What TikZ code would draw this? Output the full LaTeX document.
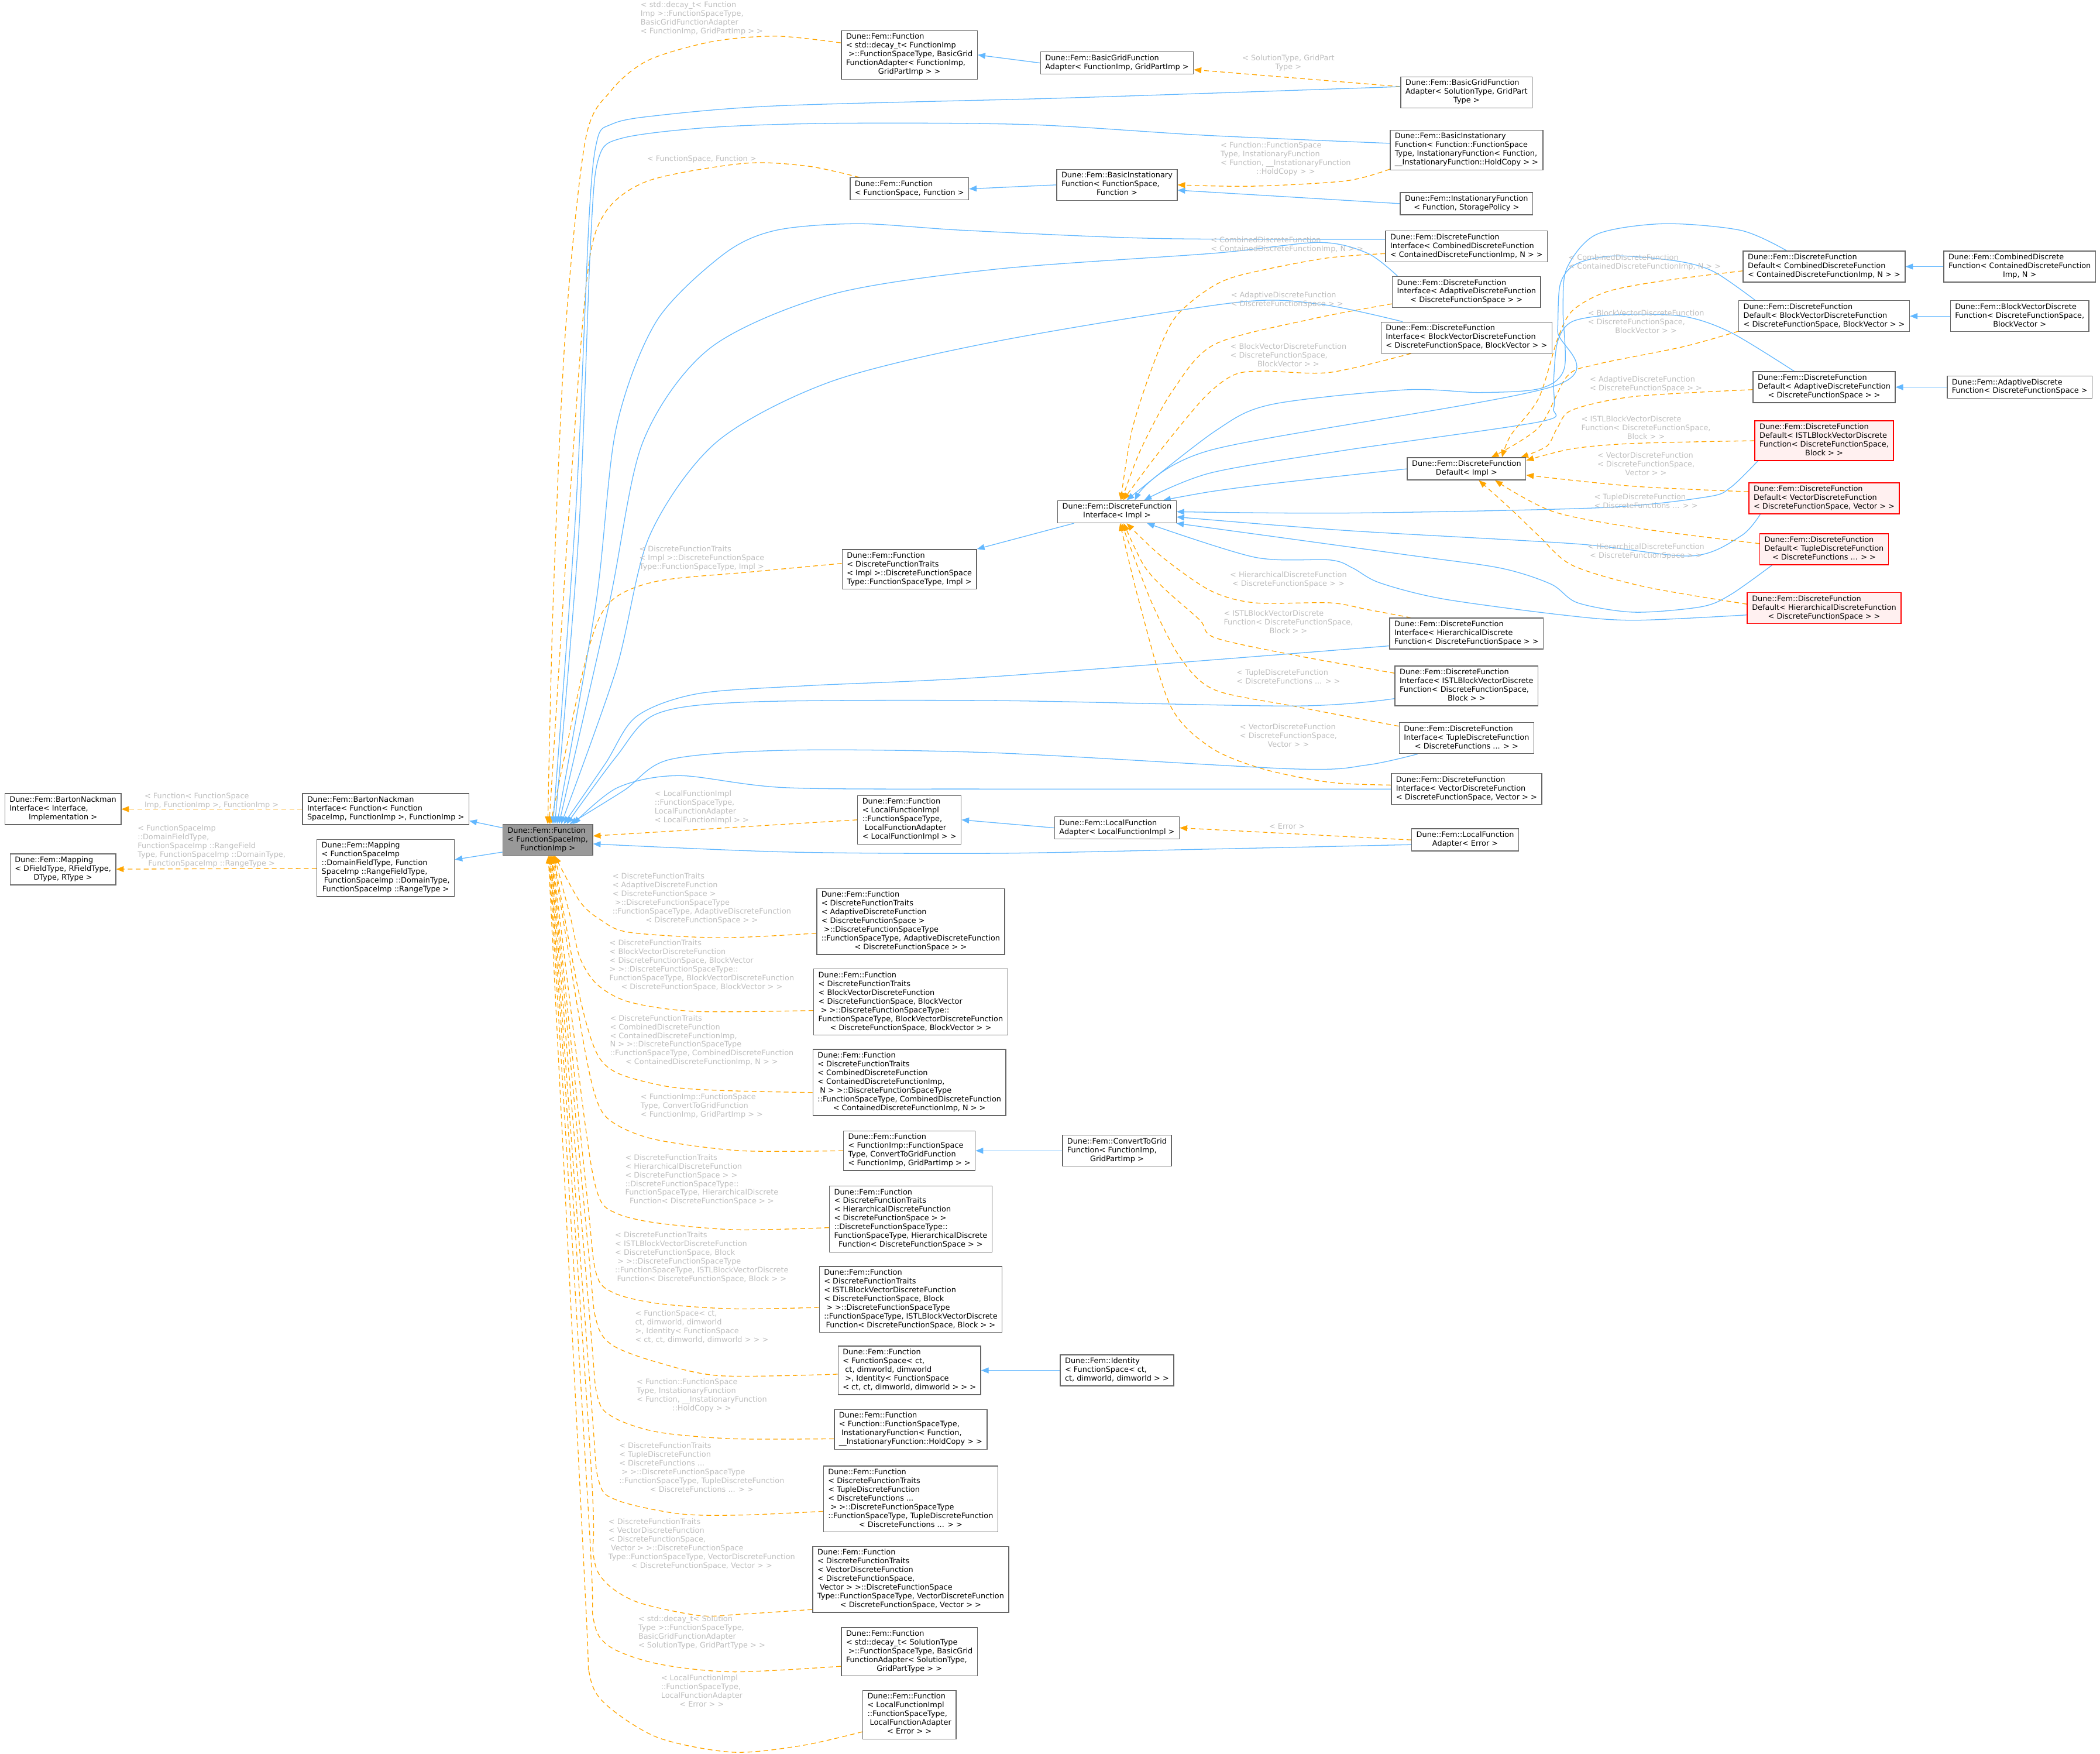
\documentclass[tikz,border=0pt]{standalone}
\usepackage{fontspec}
\setmainfont{DejaVu Sans}
\usepackage{tikz}
\usetikzlibrary{arrows.meta,backgrounds}
\definecolor{edgeblue}{HTML}{63B8FF}
\definecolor{edgeorange}{HTML}{FFA500}
\definecolor{lblgray}{HTML}{BEBEBE}
\definecolor{boxgray}{HTML}{666666}
\definecolor{hlfill}{HTML}{999999}
\definecolor{warnfill}{HTML}{FFF0F0}
\newcommand{\dox}[2]{\begin{tabular}{@{}l@{}}#1\\\multicolumn{1}{@{}c@{}}{#2}\end{tabular}}
\tikzset{
  >={Triangle[length=2.8mm,width=2.2mm]},
  cls/.style={draw=boxgray, line width=0.9pt, fill=white, font=\fontsize{8}{9.3}\selectfont, inner xsep=5pt, inner ysep=2.5pt},
  hl/.style={cls, fill=hlfill},
  warn/.style={cls, draw=red},
  warn/.append style={fill=warnfill},
  elbl/.style={text=lblgray, font=\fontsize{8}{9.3}\selectfont, inner sep=0pt},
  pub/.style={draw=edgeblue, line width=0.8pt, ->},
  tmpl/.style={draw=edgeorange, line width=0.8pt, dash pattern=on 5pt off 3.5pt, ->},
}

\begin{document}
\begin{tikzpicture}[x=0.5mm, y=-0.5mm]
  \useasboundingbox (0,0) rectangle (1568,1309);
  % left part
  \node[cls] (bni) at (47,604) {\dox{Dune::Fem::BartonNackman\\Interface< Interface,}{Implementation >}};
  \node[cls] (map0) at (47,649) {\dox{Dune::Fem::Mapping\\< DFieldType, RFieldType,}{DType, RType >}};
  \node[cls] (bnf) at (288,604) {\dox{Dune::Fem::BartonNackman\\Interface< Function< Function}{SpaceImp, FunctionImp >, FunctionImp >}};
  \node[cls] (mapf) at (288,648) {\dox{Dune::Fem::Mapping\\< FunctionSpaceImp\\::DomainFieldType, Function\\SpaceImp ::RangeFieldType,\\\ FunctionSpaceImp ::DomainType,}{FunctionSpaceImp ::RangeType >}};
  \node[hl] (fn) at (409,627) {\dox{Dune::Fem::Function\\< FunctionSpaceImp,}{FunctionImp >}};
  % top part
  \node[cls] (fbga) at (679,41) {\dox{Dune::Fem::Function\\< std::decay\_t< FunctionImp\\\ >::FunctionSpaceType, BasicGrid\\FunctionAdapter< FunctionImp,}{GridPartImp > >}};
  \node[cls] (bga) at (834,47) {\dox{Dune::Fem::BasicGridFunction}{Adapter< FunctionImp, GridPartImp >}};
  \node[cls] (bgas) at (1095,69) {\dox{Dune::Fem::BasicGridFunction\\Adapter< SolutionType, GridPart}{Type >}};
  \node[cls] (bif) at (1095,112) {\dox{Dune::Fem::BasicInstationary\\Function< Function::FunctionSpace\\Type, InstationaryFunction< Function,}{\_\_InstationaryFunction::HoldCopy > >}};
  \node[cls] (ffs) at (679,141) {\dox{Dune::Fem::Function}{< FunctionSpace, Function >}};
  \node[cls] (bis) at (834,138) {\dox{Dune::Fem::BasicInstationary\\Function< FunctionSpace,}{Function >}};
  \node[cls] (inst) at (1095,152) {\dox{Dune::Fem::InstationaryFunction}{< Function, StoragePolicy >}};
  % interfaces
  \node[cls] (dicomb) at (1095,184) {\dox{Dune::Fem::DiscreteFunction\\Interface< CombinedDiscreteFunction}{< ContainedDiscreteFunctionImp, N > >}};
  \node[cls] (diadapt) at (1095,218) {\dox{Dune::Fem::DiscreteFunction\\Interface< AdaptiveDiscreteFunction}{< DiscreteFunctionSpace > >}};
  \node[cls] (dibv) at (1095,252) {\dox{Dune::Fem::DiscreteFunction\\Interface< BlockVectorDiscreteFunction}{< DiscreteFunctionSpace, BlockVector > >}};
  \node[cls] (dfd) at (1095,350) {\dox{Dune::Fem::DiscreteFunction}{Default< Impl >}};
  \node[cls] (dfi) at (834,382) {\dox{Dune::Fem::DiscreteFunction}{Interface< Impl >}};
  \node[cls] (ftr) at (679,425) {\dox{Dune::Fem::Function\\< DiscreteFunctionTraits\\< Impl >::DiscreteFunctionSpace}{Type::FunctionSpaceType, Impl >}};
  \node[cls] (dihier) at (1095,473) {\dox{Dune::Fem::DiscreteFunction\\Interface< HierarchicalDiscrete}{Function< DiscreteFunctionSpace > >}};
  \node[cls] (diistl) at (1095,512) {\dox{Dune::Fem::DiscreteFunction\\Interface< ISTLBlockVectorDiscrete\\Function< DiscreteFunctionSpace,}{Block > >}};
  \node[cls] (dituple) at (1095,551) {\dox{Dune::Fem::DiscreteFunction\\Interface< TupleDiscreteFunction}{< DiscreteFunctions ... > >}};
  \node[cls] (divec) at (1095,589) {\dox{Dune::Fem::DiscreteFunction\\Interface< VectorDiscreteFunction}{< DiscreteFunctionSpace, Vector > >}};
  % defaults
  \node[cls] (ddcomb) at (1362,199) {\dox{Dune::Fem::DiscreteFunction\\Default< CombinedDiscreteFunction}{< ContainedDiscreteFunctionImp, N > >}};
  \node[cls] (ddbv) at (1362,236) {\dox{Dune::Fem::DiscreteFunction\\Default< BlockVectorDiscreteFunction}{< DiscreteFunctionSpace, BlockVector > >}};
  \node[cls] (ddadapt) at (1362,289) {\dox{Dune::Fem::DiscreteFunction\\Default< AdaptiveDiscreteFunction}{< DiscreteFunctionSpace > >}};
  \node[warn] (ddistl) at (1362,329) {\dox{Dune::Fem::DiscreteFunction\\Default< ISTLBlockVectorDiscrete\\Function< DiscreteFunctionSpace,}{Block > >}};
  \node[warn] (ddvec) at (1362,372) {\dox{Dune::Fem::DiscreteFunction\\Default< VectorDiscreteFunction}{< DiscreteFunctionSpace, Vector > >}};
  \node[warn] (ddtuple) at (1362,410) {\dox{Dune::Fem::DiscreteFunction\\Default< TupleDiscreteFunction}{< DiscreteFunctions ... > >}};
  \node[warn] (ddhier) at (1362,454) {\dox{Dune::Fem::DiscreteFunction\\Default< HierarchicalDiscreteFunction}{< DiscreteFunctionSpace > >}};
  \node[cls] (cdf) at (1508,199) {\dox{Dune::Fem::CombinedDiscrete\\Function< ContainedDiscreteFunction}{Imp, N >}};
  \node[cls] (bvdf) at (1508,236) {\dox{Dune::Fem::BlockVectorDiscrete\\Function< DiscreteFunctionSpace,}{BlockVector >}};
  \node[cls] (adf) at (1508,289) {\dox{Dune::Fem::AdaptiveDiscrete}{Function< DiscreteFunctionSpace >}};
  % local functions
  \node[cls] (flfa) at (679,612) {\dox{Dune::Fem::Function\\< LocalFunctionImpl\\::FunctionSpaceType,\\\ LocalFunctionAdapter}{< LocalFunctionImpl > >}};
  \node[cls] (lfa) at (834,618) {\dox{Dune::Fem::LocalFunction}{Adapter< LocalFunctionImpl >}};
  \node[cls] (lfae) at (1094,627) {\dox{Dune::Fem::LocalFunction}{Adapter< Error >}};
  % function instances
  \node[cls] (fadapt) at (680,688) {\dox{Dune::Fem::Function\\< DiscreteFunctionTraits\\< AdaptiveDiscreteFunction\\< DiscreteFunctionSpace >\\\ >::DiscreteFunctionSpaceType\\::FunctionSpaceType, AdaptiveDiscreteFunction}{< DiscreteFunctionSpace > >}};
  \node[cls] (fbv) at (680,748) {\dox{Dune::Fem::Function\\< DiscreteFunctionTraits\\< BlockVectorDiscreteFunction\\< DiscreteFunctionSpace, BlockVector\\\ > >::DiscreteFunctionSpaceType::\\FunctionSpaceType, BlockVectorDiscreteFunction}{< DiscreteFunctionSpace, BlockVector > >}};
  \node[cls] (fcomb) at (679,808) {\dox{Dune::Fem::Function\\< DiscreteFunctionTraits\\< CombinedDiscreteFunction\\< ContainedDiscreteFunctionImp,\\\ N > >::DiscreteFunctionSpaceType\\::FunctionSpaceType, CombinedDiscreteFunction}{< ContainedDiscreteFunctionImp, N > >}};
  \node[cls] (fctg) at (679,859) {\dox{Dune::Fem::Function\\< FunctionImp::FunctionSpace\\Type, ConvertToGridFunction}{< FunctionImp, GridPartImp > >}};
  \node[cls] (ctg) at (834,859) {\dox{Dune::Fem::ConvertToGrid\\Function< FunctionImp,}{GridPartImp >}};
  \node[cls] (fhier) at (680,910) {\dox{Dune::Fem::Function\\< DiscreteFunctionTraits\\< HierarchicalDiscreteFunction\\< DiscreteFunctionSpace > >\\::DiscreteFunctionSpaceType::\\FunctionSpaceType, HierarchicalDiscrete}{Function< DiscreteFunctionSpace > >}};
  \node[cls] (fistl) at (680,970) {\dox{Dune::Fem::Function\\< DiscreteFunctionTraits\\< ISTLBlockVectorDiscreteFunction\\< DiscreteFunctionSpace, Block\\\ > >::DiscreteFunctionSpaceType\\::FunctionSpaceType, ISTLBlockVectorDiscrete}{Function< DiscreteFunctionSpace, Block > >}};
  \node[cls] (fid) at (679,1023) {\dox{Dune::Fem::Function\\< FunctionSpace< ct,\\\ ct, dimworld, dimworld\\\ >, Identity< FunctionSpace}{< ct, ct, dimworld, dimworld > > >}};
  \node[cls] (ident) at (834,1023) {\dox{Dune::Fem::Identity\\< FunctionSpace< ct,}{ct, dimworld, dimworld > >}};
  \node[cls] (finst) at (680,1067) {\dox{Dune::Fem::Function\\< Function::FunctionSpaceType,\\\ InstationaryFunction< Function,}{\_\_InstationaryFunction::HoldCopy > >}};
  \node[cls] (ftuple) at (680,1119) {\dox{Dune::Fem::Function\\< DiscreteFunctionTraits\\< TupleDiscreteFunction\\< DiscreteFunctions ...\\\ > >::DiscreteFunctionSpaceType\\::FunctionSpaceType, TupleDiscreteFunction}{< DiscreteFunctions ... > >}};
  \node[cls] (fvec) at (680,1179) {\dox{Dune::Fem::Function\\< DiscreteFunctionTraits\\< VectorDiscreteFunction\\< DiscreteFunctionSpace,\\\ Vector > >::DiscreteFunctionSpace\\Type::FunctionSpaceType, VectorDiscreteFunction}{< DiscreteFunctionSpace, Vector > >}};
  \node[cls] (fsol) at (679,1233) {\dox{Dune::Fem::Function\\< std::decay\_t< SolutionType\\\ >::FunctionSpaceType, BasicGrid\\FunctionAdapter< SolutionType,}{GridPartType > >}};
  \node[cls] (ferr) at (679,1280) {\dox{Dune::Fem::Function\\< LocalFunctionImpl\\::FunctionSpaceType,\\\ LocalFunctionAdapter}{< Error > >}};
  % labels
  \node[elbl] (l-bnf) at (158,598) {\dox{< Function< FunctionSpace}{Imp, FunctionImp >, FunctionImp >}};
  \node[elbl] (l-mapf) at (158,632) {\dox{< FunctionSpaceImp\\::DomainFieldType,\\FunctionSpaceImp ::RangeField\\Type, FunctionSpaceImp ::DomainType,}{FunctionSpaceImp ::RangeType >}};
  \node[elbl] (l-fbga) at (524,14) {\dox{< std::decay\_t< Function\\Imp >::FunctionSpaceType,\\BasicGridFunctionAdapter}{< FunctionImp, GridPartImp > >}};
  \node[elbl] (l-bgas) at (962,47) {\dox{< SolutionType, GridPart}{Type >}};
  \node[elbl] (l-bif) at (960,119) {\dox{< Function::FunctionSpace\\Type, InstationaryFunction\\< Function, \_\_InstationaryFunction}{::HoldCopy > >}};
  \node[elbl] (l-ffs) at (524,119) {< FunctionSpace, Function >};
  \node[elbl] (l-ftr) at (524,417) {\dox{< DiscreteFunctionTraits\\< Impl >::DiscreteFunctionSpace}{Type::FunctionSpaceType, Impl >}};
  \node[elbl] (l-flfa) at (524,603) {\dox{< LocalFunctionImpl\\::FunctionSpaceType,\\LocalFunctionAdapter}{< LocalFunctionImpl > >}};
  \node[elbl] (l-lfae) at (961,617) {< Error >};
  \node[elbl] (l-dicomb) at (961,183) {\dox{< CombinedDiscreteFunction}{< ContainedDiscreteFunctionImp, N > >}};
  \node[elbl] (l-diadapt) at (961,224) {\dox{< AdaptiveDiscreteFunction}{< DiscreteFunctionSpace > >}};
  \node[elbl] (l-dibv) at (962,266) {\dox{< BlockVectorDiscreteFunction\\< DiscreteFunctionSpace,}{BlockVector > >}};
  \node[elbl] (l-dihier) at (962,433) {\dox{< HierarchicalDiscreteFunction}{< DiscreteFunctionSpace > >}};
  \node[elbl] (l-diistl) at (962,465) {\dox{< ISTLBlockVectorDiscrete\\Function< DiscreteFunctionSpace,}{Block > >}};
  \node[elbl] (l-dituple) at (962,506) {\dox{< TupleDiscreteFunction}{< DiscreteFunctions ... > >}};
  \node[elbl] (l-divec) at (962,550) {\dox{< VectorDiscreteFunction\\< DiscreteFunctionSpace,}{Vector > >}};
  \node[elbl] (l-ddcomb) at (1228,196) {\dox{< CombinedDiscreteFunction}{< ContainedDiscreteFunctionImp, N > >}};
  \node[elbl] (l-ddbv) at (1229,241) {\dox{< BlockVectorDiscreteFunction\\< DiscreteFunctionSpace,}{BlockVector > >}};
  \node[elbl] (l-ddadapt) at (1229,287) {\dox{< AdaptiveDiscreteFunction}{< DiscreteFunctionSpace > >}};
  \node[elbl] (l-ddistl) at (1229,320) {\dox{< ISTLBlockVectorDiscrete\\Function< DiscreteFunctionSpace,}{Block > >}};
  \node[elbl] (l-ddvec) at (1229,347) {\dox{< VectorDiscreteFunction\\< DiscreteFunctionSpace,}{Vector > >}};
  \node[elbl] (l-ddtuple) at (1229,375) {\dox{< TupleDiscreteFunction}{< DiscreteFunctions ... > >}};
  \node[elbl] (l-ddhier) at (1229,412) {\dox{< HierarchicalDiscreteFunction}{< DiscreteFunctionSpace > >}};
  \node[elbl] (l-fadapt) at (524,671) {\dox{< DiscreteFunctionTraits\\< AdaptiveDiscreteFunction\\< DiscreteFunctionSpace >\\\ >::DiscreteFunctionSpaceType\\::FunctionSpaceType, AdaptiveDiscreteFunction}{< DiscreteFunctionSpace > >}};
  \node[elbl] (l-fbv) at (524,721) {\dox{< DiscreteFunctionTraits\\< BlockVectorDiscreteFunction\\< DiscreteFunctionSpace, BlockVector\\> >::DiscreteFunctionSpaceType::\\FunctionSpaceType, BlockVectorDiscreteFunction}{< DiscreteFunctionSpace, BlockVector > >}};
  \node[elbl] (l-fcomb) at (524,777) {\dox{< DiscreteFunctionTraits\\< CombinedDiscreteFunction\\< ContainedDiscreteFunctionImp,\\N > >::DiscreteFunctionSpaceType\\::FunctionSpaceType, CombinedDiscreteFunction}{< ContainedDiscreteFunctionImp, N > >}};
  \node[elbl] (l-fctg) at (524,826) {\dox{< FunctionImp::FunctionSpace\\Type, ConvertToGridFunction}{< FunctionImp, GridPartImp > >}};
  \node[elbl] (l-fhier) at (524,881) {\dox{< DiscreteFunctionTraits\\< HierarchicalDiscreteFunction\\< DiscreteFunctionSpace > >\\::DiscreteFunctionSpaceType::\\FunctionSpaceType, HierarchicalDiscrete}{Function< DiscreteFunctionSpace > >}};
  \node[elbl] (l-fistl) at (524,939) {\dox{< DiscreteFunctionTraits\\< ISTLBlockVectorDiscreteFunction\\< DiscreteFunctionSpace, Block\\\ > >::DiscreteFunctionSpaceType\\::FunctionSpaceType, ISTLBlockVectorDiscrete}{Function< DiscreteFunctionSpace, Block > >}};
  \node[elbl] (l-fid) at (524,991) {\dox{< FunctionSpace< ct,\\ct, dimworld, dimworld\\>, Identity< FunctionSpace}{< ct, ct, dimworld, dimworld > > >}};
  \node[elbl] (l-finst) at (524,1042) {\dox{< Function::FunctionSpace\\Type, InstationaryFunction\\< Function, \_\_InstationaryFunction}{::HoldCopy > >}};
  \node[elbl] (l-ftuple) at (524,1096) {\dox{< DiscreteFunctionTraits\\< TupleDiscreteFunction\\< DiscreteFunctions ...\\\ > >::DiscreteFunctionSpaceType\\::FunctionSpaceType, TupleDiscreteFunction}{< DiscreteFunctions ... > >}};
  \node[elbl] (l-fvec) at (524,1153) {\dox{< DiscreteFunctionTraits\\< VectorDiscreteFunction\\< DiscreteFunctionSpace,\\\ Vector > >::DiscreteFunctionSpace\\Type::FunctionSpaceType, VectorDiscreteFunction}{< DiscreteFunctionSpace, Vector > >}};
  \node[elbl] (l-fsol) at (524,1219) {\dox{< std::decay\_t< Solution\\Type >::FunctionSpaceType,\\BasicGridFunctionAdapter}{< SolutionType, GridPartType > >}};
  \node[elbl] (l-ferr) at (524,1263) {\dox{< LocalFunctionImpl\\::FunctionSpaceType,\\LocalFunctionAdapter}{< Error > >}};

  \begin{scope}[on background layer]
  \draw[tmpl] (bnf) -- (bni);
  \draw[tmpl] (mapf) -- (map0);
  \draw[pub] (fn.165) -- (bnf.-8);
  \draw[pub] (fn.195) -- (mapf.7);
  \draw[pub] (bga.west) -- (fbga.east);
  \draw[tmpl] (bgas.175) -- (bga.-5);
  \draw[pub] (bis.west) -- (ffs.east);
  \draw[pub] (inst.west) -- (bis.-5);
  \draw[tmpl] plot[smooth] coordinates {(bif.-166) (1005,135) (935,139) (bis.east)};
  \draw[pub] (lfa.west) -- (flfa.east);
  \draw[tmpl] (lfae.west) -- (lfa.east);
  \draw[tmpl] (flfa.west) -- (fn.5);
  \draw[pub] plot[smooth] coordinates {(lfae.-175) (896,634) (743,637) (587,636) (fn.-5)};
  \draw[pub] (ctg.west) -- (fctg.east);
  \draw[pub] (ident.west) -- (fid.east);
  \draw[pub] (cdf.west) -- (ddcomb.east);
  \draw[pub] (bvdf.west) -- (ddbv.east);
  \draw[pub] (adf.west) -- (ddadapt.east);
  \draw[pub] (dfi.-165) -- (ftr.north east);
  \draw[pub] plot[smooth] coordinates {(dfd.west) (950,361) (904,367) (dfi.14)};
  % instances of the interface
  \draw[tmpl] plot[smooth] coordinates {(dicomb.-175) (988,193) (924,206) (899,218) (876,239) (860,275) (845,322) (dfi.72)};
  \draw[tmpl] plot[smooth] coordinates {(diadapt.-171) (980,238) (907,257) (876,291) (852,335) (dfi.68)};
  \draw[tmpl] plot[smooth] coordinates {(dibv.-164) (993,278) (943,277) (921,280) (899,297) (865,338) (dfi.62)};
  \draw[tmpl] plot[smooth] coordinates {(dihier.164) (1021,455) (993,450) (937,450) (904,441) (868,416) (dfi.-50)};
  \draw[tmpl] plot[smooth] coordinates {(diistl.170) (966,489) (907,476) (896,463) (870,440) (854,422) (dfi.-60)};
  \draw[tmpl] plot[smooth] coordinates {(dituple.170) (965,527) (907,515) (882,492) (860,450) (dfi.-68)};
  \draw[tmpl] plot[smooth] coordinates {(divec.177) (993,584) (943,574) (904,558) (874,527) (851,451) (dfi.-75)};
  % instances of the default
  \draw[tmpl] plot[smooth] coordinates {(ddcomb.-177) (1239,210) (1199,218) (1174,232) (1163,253) (1149,297) (1128,325) (dfd.18)};
  \draw[tmpl] plot[smooth] coordinates {(ddbv.-170) (1256,259) (1192,272) (1170,281) (1149,319) (dfd.25)};
  \draw[tmpl] plot[smooth] coordinates {(ddadapt.-178) (1220,296) (1174,306) (1163,319) (1155,333) (dfd.12)};
  \draw[tmpl] plot[smooth] coordinates {(ddistl.west) (1220,331) (1174,335) (dfd.8)};
  \draw[tmpl] plot[smooth] coordinates {(ddvec.175) (1220,363) (dfd.-6)};
  \draw[tmpl] plot[smooth] coordinates {(ddtuple.175) (1228,395) (1160,382) (dfd.-22)};
  \draw[tmpl] plot[smooth] coordinates {(ddhier.177) (1228,438) (1174,422) (1149,400) (1127,379) (dfd.-43)};
  \draw[pub] plot[smooth] coordinates {(ddcomb.157) (1300,172) (1242,167) (1192,175) (1170,200) (1167,230) (1168,275) (1150,290) (1105,293) (1049,291) (949,302) (907,322) (dfi.50)};
  \draw[pub] plot[smooth] coordinates {(ddbv.167) (1280,203) (1253,195) (1206,191) (1177,197) (1165,212) (1163,247) (1161,288) (904,336) (dfi.33)};
  \draw[pub] plot[smooth] coordinates {(ddadapt.152) (1292,248) (1256,236) (1206,235) (1174,240) (1163,255) (1160,285) (1160,305) (1149,315) (1005,336) (904,353) (dfi.23)};
  \draw[pub] plot[smooth] coordinates {(ddistl.-163) (1292,364) (1274,371) (1195,379) (1005,383) (dfi.east)};
  \draw[pub] plot[smooth] coordinates {(ddvec.-166) (1300,400) (1263,415) (1177,406) (1005,396) (dfi.-5)};
  \draw[pub] plot[smooth] coordinates {(ddtuple.-163) (1292,444) (1270,453) (1220,457) (1178,450) (1158,436) (1120,424) (1049,414) (dfi.-11)};
  \draw[pub] plot[smooth] coordinates {(ddhier.-175) (1220,463) (1166,459) (1077,447) (1030,435) (1010,424) (993,418) (937,416) (dfi.-21)};
  % into the function template, from above
  \draw[tmpl] plot[smooth] coordinates {(fbga.170) (580,27) (532,31) (484,45) (456,68) (437,105) (422,250) (413,450) (fn.north)};
  \draw[tmpl] plot[smooth] coordinates {(ffs.167) (603,124) (555,122) (484,135) (451,160) (438,210) (425,380) (fn.85)};
  \draw[tmpl] plot[smooth] coordinates {(ftr.175) (560,427) (490,434) (455,450) (438,490) (fn.80)};
  \draw[pub] plot[smooth] coordinates {(bgas.175) (800,73) (580,79) (484,87) (456,93) (446,104) (440,160) (430,380) (fn.72)};
  \draw[pub] plot[smooth] coordinates {(bif.175) (900,101) (768,93) (627,92) (532,95) (465,103) (447,118) (441,180) (432,400) (fn.66)};
  \draw[pub] plot[smooth] coordinates {(dicomb.175) (863,178) (721,172) (641,167) (579,172) (540,190) (490,240) (460,320) (445,450) (fn.60)};
  \draw[pub] plot[smooth] coordinates {(diadapt.167) (1021,189) (985,181) (907,189) (743,201) (620,220) (530,260) (480,330) (455,450) (fn.55)};
  \draw[pub] plot[smooth] coordinates {(dibv.166) (985,227) (921,226) (743,255) (620,285) (535,330) (485,400) (460,500) (fn.50)};
  \draw[pub] plot[smooth] coordinates {(dihier.-171) (743,505) (600,512) (520,518) (475,535) (452,570) (fn.45)};
  \draw[pub] plot[smooth] coordinates {(diistl.-170) (966,527) (743,523) (560,524) (490,533) (460,565) (fn.40)};
  \draw[pub] plot[smooth] coordinates {(dituple.-162) (1021,571) (966,574) (743,562) (590,560) (500,567) (466,590) (fn.36)};
  \draw[pub] plot[smooth] coordinates {(divec.west) (743,589) (587,588) (507,579) (461,588) (fn.32)};
  % into the function template, from below
  \draw[tmpl] plot[smooth] coordinates {(fadapt.-173) (538,700) (470,696) (449,687) (433,673) (fn.-66)};
  \draw[tmpl] plot[smooth] coordinates {(fbv.-175) (519,755) (470,748) (446,735) (433,715) (426,685) (fn.-68)};
  \draw[tmpl] plot[smooth] coordinates {(fcomb.-174) (538,814) (498,811) (461,801) (445,785) (432,740) (fn.-70)};
  \draw[tmpl] plot[smooth] coordinates {(fctg.west) (553,859) (491,851) (461,840) (447,825) (436,780) (fn.-72)};
  \draw[tmpl] plot[smooth] coordinates {(fhier.-174) (550,918) (491,913) (461,906) (447,893) (437,840) (fn.-74)};
  \draw[tmpl] plot[smooth] coordinates {(fistl.-175) (547,977) (491,973) (458,965) (445,950) (438,890) (fn.-76)};
  \draw[tmpl] plot[smooth] coordinates {(fid.-177) (538,1027) (491,1017) (457,1004) (445,985) (439,930) (fn.-78)};
  \draw[tmpl] plot[smooth] coordinates {(finst.-173) (547,1074) (491,1069) (458,1058) (446,1042) (440,980) (fn.-80)};
  \draw[tmpl] plot[smooth] coordinates {(ftuple.-172) (553,1131) (507,1130) (461,1120) (447,1105) (441,1040) (fn.-82)};
  \draw[tmpl] plot[smooth] coordinates {(fvec.-163) (553,1205) (522,1206) (476,1196) (452,1181) (443,1160) (441,1090) (fn.-84)};
  \draw[tmpl] plot[smooth] coordinates {(fsol.-168) (547,1248) (491,1242) (455,1229) (443,1208) (440,1140) (fn.-86)};
  \draw[tmpl] plot[smooth] coordinates {(ferr.-160) (599,1303) (547,1308) (491,1297) (452,1272) (440,1249) (437,1190) (fn.-88)};
  \end{scope}
\end{tikzpicture}
\end{document}
